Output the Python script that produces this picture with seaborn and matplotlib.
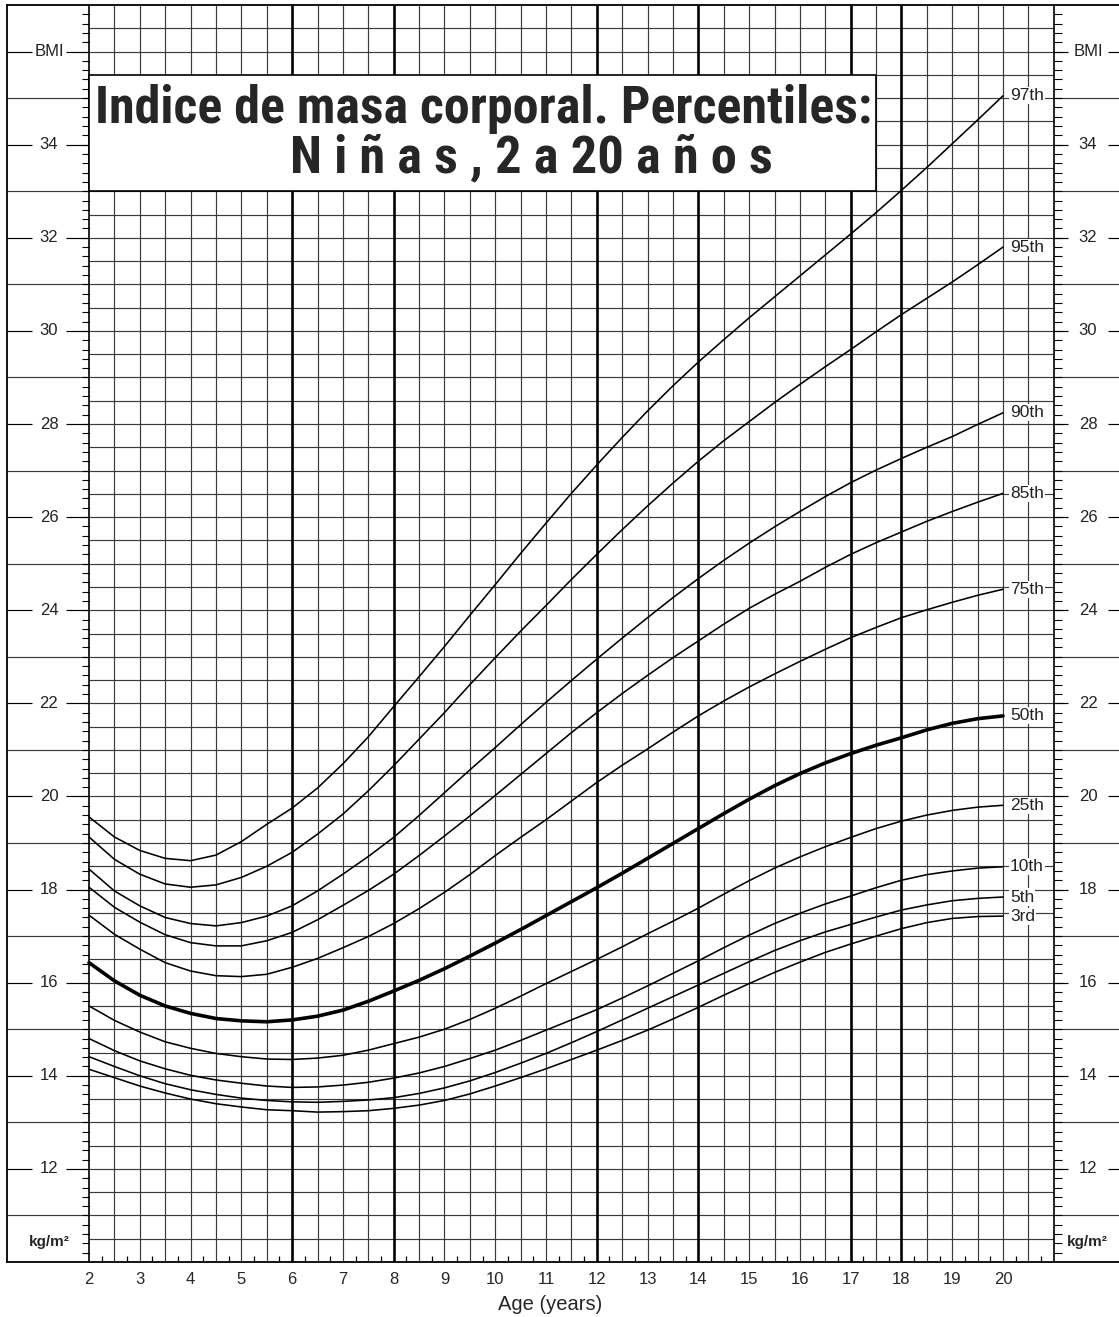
import numpy as np
import pandas as pd
import matplotlib
matplotlib.use("Agg")
import matplotlib.pyplot as plt
import matplotlib.patches as mpatches
import seaborn as sns
from matplotlib import font_manager as fm

# ---------------- data (every half year) ----------------
ages = [2, 2.5, 3, 3.5, 4, 4.5, 5, 5.5, 6, 6.5, 7, 7.5, 8, 8.5, 9, 9.5, 10, 10.5, 11, 11.5,
        12, 12.5, 13, 13.5, 14, 14.5, 15, 15.5, 16, 16.5, 17, 17.5, 18, 18.5, 19, 19.5, 20]
p97 = [19.56, 19.13, 18.84, 18.67, 18.62, 18.74, 19.03, 19.40, 19.75, 20.18, 20.70, 21.28, 21.93, 22.57, 23.22, 23.89, 24.55, 25.22, 25.87, 26.51,
       27.12, 27.71, 28.28, 28.82, 29.33, 29.81, 30.28, 30.73, 31.18, 31.63, 32.08, 32.54, 33.02, 33.51, 34.02, 34.53, 35.05]
p95 = [19.13, 18.65, 18.33, 18.12, 18.05, 18.10, 18.26, 18.50, 18.80, 19.19, 19.62, 20.12, 20.66, 21.23, 21.80, 22.40, 22.98, 23.55, 24.10, 24.66,
       25.20, 25.73, 26.24, 26.73, 27.20, 27.64, 28.05, 28.46, 28.85, 29.23, 29.60, 29.98, 30.35, 30.70, 31.05, 31.42, 31.80]
p90 = [18.44, 17.97, 17.65, 17.40, 17.27, 17.22, 17.29, 17.43, 17.65, 17.97, 18.33, 18.71, 19.12, 19.59, 20.08, 20.57, 21.05, 21.54, 22.02, 22.49,
       22.95, 23.40, 23.84, 24.27, 24.68, 25.07, 25.44, 25.79, 26.12, 26.44, 26.74, 27.01, 27.26, 27.50, 27.73, 27.99, 28.24]
p85 = [18.05, 17.62, 17.30, 17.03, 16.86, 16.79, 16.79, 16.90, 17.08, 17.35, 17.66, 17.98, 18.33, 18.73, 19.15, 19.58, 20.02, 20.47, 20.92, 21.37,
       21.80, 22.21, 22.60, 22.98, 23.34, 23.70, 24.04, 24.34, 24.62, 24.92, 25.20, 25.45, 25.68, 25.91, 26.12, 26.32, 26.51]
p75 = [17.45, 17.04, 16.72, 16.43, 16.25, 16.15, 16.13, 16.18, 16.33, 16.52, 16.75, 16.99, 17.27, 17.59, 17.94, 18.32, 18.73, 19.12, 19.50, 19.90,
       20.30, 20.67, 21.02, 21.38, 21.73, 22.05, 22.35, 22.63, 22.90, 23.16, 23.41, 23.63, 23.84, 24.01, 24.17, 24.32, 24.45]
p50 = [16.43, 16.04, 15.73, 15.50, 15.34, 15.23, 15.18, 15.16, 15.20, 15.28, 15.41, 15.60, 15.82, 16.05, 16.30, 16.57, 16.85, 17.14, 17.44, 17.74,
       18.04, 18.35, 18.67, 18.99, 19.31, 19.63, 19.94, 20.23, 20.49, 20.72, 20.92, 21.10, 21.26, 21.43, 21.57, 21.67, 21.73]
p25 = [15.50, 15.19, 14.94, 14.73, 14.59, 14.48, 14.41, 14.36, 14.35, 14.38, 14.44, 14.55, 14.69, 14.83, 15.00, 15.21, 15.45, 15.71, 15.98, 16.24,
       16.50, 16.77, 17.05, 17.32, 17.60, 17.90, 18.19, 18.46, 18.70, 18.92, 19.12, 19.31, 19.47, 19.60, 19.70, 19.77, 19.81]
p10 = [14.80, 14.54, 14.32, 14.15, 14.01, 13.91, 13.84, 13.78, 13.75, 13.76, 13.80, 13.86, 13.95, 14.06, 14.20, 14.37, 14.55, 14.76, 14.98, 15.20,
       15.42, 15.67, 15.93, 16.20, 16.47, 16.75, 17.02, 17.27, 17.49, 17.69, 17.86, 18.04, 18.20, 18.32, 18.40, 18.46, 18.49]
p5 = [14.41, 14.20, 14.00, 13.83, 13.70, 13.60, 13.52, 13.47, 13.44, 13.43, 13.45, 13.48, 13.53, 13.62, 13.74, 13.89, 14.07, 14.27, 14.48, 14.71,
      14.95, 15.20, 15.45, 15.70, 15.95, 16.20, 16.45, 16.69, 16.90, 17.09, 17.25, 17.41, 17.56, 17.67, 17.76, 17.81, 17.84]
p3 = [14.14, 13.96, 13.78, 13.63, 13.50, 13.40, 13.33, 13.27, 13.25, 13.22, 13.23, 13.25, 13.30, 13.37, 13.47, 13.61, 13.78, 13.96, 14.15, 14.35,
      14.55, 14.76, 14.98, 15.22, 15.47, 15.73, 15.98, 16.22, 16.44, 16.65, 16.83, 17.00, 17.16, 17.29, 17.38, 17.42, 17.43]

series_names = ["97th", "95th", "90th", "85th", "75th", "50th", "25th", "10th", "5th", "3rd"]
series_values = [p97, p95, p90, p85, p75, p50, p25, p10, p5, p3]

x_tick_labels = [str(a) for a in range(2, 21)]
y_tick_values = list(range(12, 35, 2))
title_line1 = "Indice de masa corporal. Percentiles:"
title_line2 = "N i ñ a s , 2 a 20 a ñ o s"
x_label = "Age (years)"

# ---------------- style ----------------
sns.set_style("white")
avail = {f.name for f in fm.fontManager.ttflist}
base_font = "Liberation Sans" if "Liberation Sans" in avail else "DejaVu Sans"
title_font = base_font
for cand in ["Liberation Sans Narrow", "Roboto Condensed", "Open Sans Condensed", "Noto Sans Condensed"]:
    if cand in avail:
        title_font = cand
        break
plt.rcParams["font.family"] = [base_font, "DejaVu Sans"]

W, H = 1119, 1317
fig = plt.figure(figsize=(W / 100, H / 100), dpi=100)
fig.patch.set_facecolor("white")

PX_YR = 914 / 18.0   # pixels per year
X2 = 89              # pixel of age 2
def age_at(px):
    return 2 + (px - X2) / PX_YR

ax_left_px, ax_bottom_px, ax_top_px = 7, 1262, 5
ax = fig.add_axes([ax_left_px / W, (H - ax_bottom_px) / H, (W - ax_left_px) / W, (ax_bottom_px - ax_top_px) / H])
ax.set_xlim(age_at(ax_left_px), age_at(W))
ax.set_ylim(10, 37)
ax.set_facecolor("white")
for s in ["left", "top", "bottom"]:
    ax.spines[s].set_visible(True)
    ax.spines[s].set_color("black")
    ax.spines[s].set_linewidth(1.3)
ax.spines["right"].set_visible(False)

GRID_C = "#3a3a3a"
GRID_LW = 0.85
for v in np.arange(10.5, 37.0, 0.5):
    ax.hlines(v, 2, 21, color=GRID_C, lw=GRID_LW, zorder=1)
thick_years = [6, 8, 12, 14, 17, 18]
for a in np.arange(2.0, 21.01, 0.5):
    if a in thick_years:
        ax.vlines(a, 10, 37, color="black", lw=1.9, zorder=2)
    elif a in (2.0, 21.0):
        ax.vlines(a, 10, 37, color="black", lw=1.2, zorder=2)
    else:
        ax.vlines(a, 10, 37, color=GRID_C, lw=GRID_LW, zorder=1)

# side panels
xl0 = age_at(7)
xr1 = age_at(W)
for v in range(11, 37, 2):
    ax.hlines(v, xl0, 2, color=GRID_C, lw=GRID_LW, zorder=1)
    ax.hlines(v, 21, xr1, color=GRID_C, lw=GRID_LW, zorder=1)
for v in y_tick_values + [36]:
    lab = "BMI" if v == 36 else str(v)
    ax.hlines(v, age_at(7), age_at(32), color="black", lw=GRID_LW)
    ax.hlines(v, age_at(66), 2, color="black", lw=GRID_LW)
    ax.hlines(v, 21, age_at(1068), color="black", lw=GRID_LW)
    ax.hlines(v, age_at(1108), xr1, color="black", lw=GRID_LW)
    ax.text(age_at(49), v, lab, ha="center", va="center", fontsize=12, color="#222222")
    ax.text(age_at(1088), v, lab, ha="center", va="center", fontsize=12, color="#222222")
ax.text(age_at(49), 10.42, "kg/m²", ha="center", va="center", fontsize=11, fontweight="bold")
ax.text(age_at(1087), 10.42, "kg/m²", ha="center", va="center", fontsize=11, fontweight="bold")

for v in np.arange(10.2, 37.0, 0.2):
    ax.hlines(v, age_at(82), 2, color="black", lw=0.8)
    ax.hlines(v, 21, age_at(1062), color="black", lw=0.8)
for a in np.arange(2.25, 21.0, 0.5):
    ax.vlines(a, 10, 10.13, color="black", lw=0.9)

ax.set_xticks(range(2, 21))
ax.set_xticklabels(x_tick_labels, fontsize=12)
ax.tick_params(axis="x", length=0, pad=7)
ax.set_yticks([])
fig.text(550 / W, 1 - 1304 / H, x_label, ha="center", va="center", fontsize=14.5)

# ---------------- curves ----------------
rows = []
for name, vals in zip(series_names, series_values):
    for a, b in zip(ages, vals):
        rows.append({"age": a, "bmi": b, "pct": name})
df = pd.DataFrame(rows)
for name in series_names:
    sub = df[df["pct"] == name]
    sns.lineplot(data=sub, x="age", y="bmi", color="black", lw=2.6 if name == "50th" else 1.15,
                 ax=ax, estimator=None, sort=False, zorder=4,
                 solid_joinstyle="round", solid_capstyle="round")
    ax.text(age_at(1010), sub["bmi"].iloc[-1], name, ha="left", va="center", fontsize=12.5,
            color="#222222", zorder=6,
            bbox=dict(boxstyle="square,pad=0.06", fc="white", ec="none"))
ax.set_xlabel("")
ax.set_ylabel("")

# ---------------- title box ----------------
ax.add_patch(mpatches.Rectangle((2, 33), 15.5, 2.5, facecolor="white", edgecolor="black", lw=1.2, zorder=5))
fig.canvas.draw()
renderer = fig.canvas.get_renderer()

def fit_text(x, y, s, target_px, size0=30):
    t = ax.text(x, y, s, ha="center", va="center", fontsize=size0, fontweight="bold",
                family=[title_font, "DejaVu Sans"], zorder=6)
    w = t.get_window_extent(renderer).width
    t.set_fontsize(size0 * target_px / w)
    return t

fit_text(age_at(484), 34.77, title_line1, 778)
fit_text(age_at(531), 33.70, title_line2, 483)

ax.grid(False)
fig.savefig("out.png", dpi=100, facecolor="white")
